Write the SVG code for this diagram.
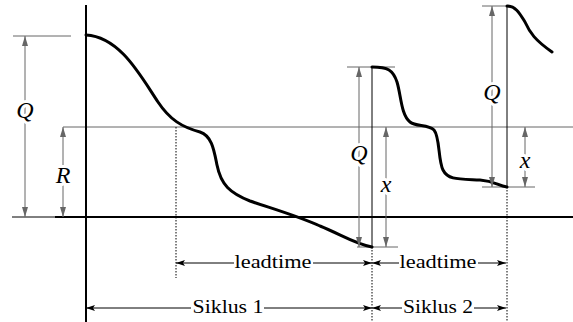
<svg xmlns="http://www.w3.org/2000/svg" width="573" height="322" viewBox="0 0 573 322">
  <style>
    .axis { stroke: #000; stroke-width: 2; fill: none; }
    .thin { stroke: #000; stroke-width: 1; fill: none; }
    .grey { stroke: #666; stroke-width: 1; fill: none; }
    .dot { stroke: #000; stroke-width: 1; stroke-dasharray: 1.5 1.5; fill: none; }
    .stock { stroke: #000; stroke-width: 3; fill: none; stroke-linecap: round; stroke-linejoin: round; }
    .dim { stroke: #666; stroke-width: 1; fill: none; marker-start: url(#ag); marker-end: url(#ag); }
    .span { stroke: #000; stroke-width: 1; fill: none; marker-start: url(#ab); marker-end: url(#ab); }
    .sym { font-family: "Liberation Serif", "DejaVu Serif", serif; font-style: italic; font-size: 24px; fill: #000; text-anchor: middle; stroke: #fff; stroke-width: 6; paint-order: stroke; stroke-linejoin: round; }
    .lbl { font-family: "Liberation Serif", "DejaVu Serif", serif; font-size: 18px; fill: #000; text-anchor: middle; }
    .bg { fill: #fff; }
  </style>
  <defs>
    <marker id="ag" viewBox="0 0 10 6" refX="10" refY="3" markerWidth="10" markerHeight="6" orient="auto-start-reverse" markerUnits="userSpaceOnUse">
      <path d="M0,0 L10,3 L0,6 z" fill="#666"/>
    </marker>
    <marker id="ab" viewBox="0 0 9 6" refX="9" refY="3" markerWidth="9" markerHeight="6" orient="auto-start-reverse" markerUnits="userSpaceOnUse">
      <path d="M0,0 L9,3 L0,6 L2,3 z" fill="#000"/>
    </marker>
  </defs>

  <!-- reorder level and reference lines -->
  <g id="guides">
    <line class="grey" x1="63" y1="127" x2="573" y2="127"/>
    <line class="grey" x1="13" y1="36" x2="71" y2="36"/>
    <line class="grey" x1="347" y1="67" x2="395" y2="67"/>
    <line class="grey" x1="357" y1="247" x2="398" y2="247"/>
    <line class="grey" x1="482" y1="6" x2="507" y2="6"/>
    <line class="grey" x1="482" y1="187" x2="535" y2="187"/>
    <line class="thin" x1="372" y1="67" x2="372" y2="247"/>
    <line class="thin" x1="507" y1="6" x2="507" y2="187"/>
    <line class="dot" x1="176" y1="127" x2="176" y2="278"/>
    <line class="dot" x1="372" y1="247" x2="372" y2="322"/>
    <line class="dot" x1="507" y1="187" x2="507" y2="322"/>
  </g>

  <!-- axes -->
  <g id="axes">
    <line class="axis" x1="86" y1="5" x2="86" y2="322"/>
    <line class="thin" x1="12" y1="217" x2="55" y2="217"/>
    <line class="axis" x1="55" y1="217" x2="573" y2="217"/>
  </g>

  <!-- inventory level over time -->
  <g id="stock">
    <path class="stock" d="M86,35 C120,37 140,75 158,102 C170,120 182,127 200,132 C212,136 214,150 217,165 C221,185 230,193 250,201 C270,208 295,215 320,226 C340,234 355,244 372,247"/>
    <path class="stock" d="M372,67 C388,67 393,70 397,82 C401,95 401,115 410,122 C416,127 428,124 434,130 C440,137 438,160 443,170 C448,180 458,179 480,180 C495,181 498,186 507,187"/>
    <path class="stock" d="M507,6 C516,6 520,14 525,22 C530,33 535,40 552,52"/>
  </g>

  <!-- dimension arrows -->
  <g id="connectors">
    <line class="dim" x1="25" y1="36" x2="25" y2="217"/>
    <line class="dim" x1="63" y1="127" x2="63" y2="217"/>
    <line class="dim" x1="359" y1="67" x2="359" y2="247"/>
    <line class="dim" x1="386" y1="127" x2="386" y2="247"/>
    <line class="dim" x1="492" y1="6" x2="492" y2="187"/>
    <line class="dim" x1="525" y1="127" x2="525" y2="187"/>
    <line class="span" x1="176" y1="263" x2="372" y2="263"/>
    <line class="span" x1="372" y1="263" x2="506" y2="263"/>
    <line class="span" x1="86" y1="308" x2="372" y2="308"/>
    <line class="span" x1="372" y1="308" x2="506" y2="308"/>
  </g>

  <g id="label-Q1"><text class="sym" x="25" y="118">Q</text></g>
  <g id="label-R"><text class="sym" x="63" y="183">R</text></g>
  <g id="label-Q2"><text class="sym" x="359" y="161">Q</text></g>
  <g id="label-x1"><text class="sym" x="386" y="192">x</text></g>
  <g id="label-Q3"><text class="sym" x="492" y="100">Q</text></g>
  <g id="label-x2"><text class="sym" x="525" y="168">x</text></g>
  <g id="label-lead1"><rect class="bg" x="234" y="254" width="79" height="18"/><text class="lbl" x="273" y="268" textLength="77" lengthAdjust="spacingAndGlyphs">leadtime</text></g>
  <g id="label-lead2"><rect class="bg" x="399" y="254" width="79" height="18"/><text class="lbl" x="438" y="268" textLength="77" lengthAdjust="spacingAndGlyphs">leadtime</text></g>
  <g id="label-cycle1"><rect class="bg" x="191" y="299" width="73" height="18"/><text class="lbl" x="228" y="313" textLength="71" lengthAdjust="spacingAndGlyphs">Siklus 1</text></g>
  <g id="label-cycle2"><rect class="bg" x="402" y="299" width="72" height="18"/><text class="lbl" x="438" y="313" textLength="70" lengthAdjust="spacingAndGlyphs">Siklus 2</text></g>
</svg>
